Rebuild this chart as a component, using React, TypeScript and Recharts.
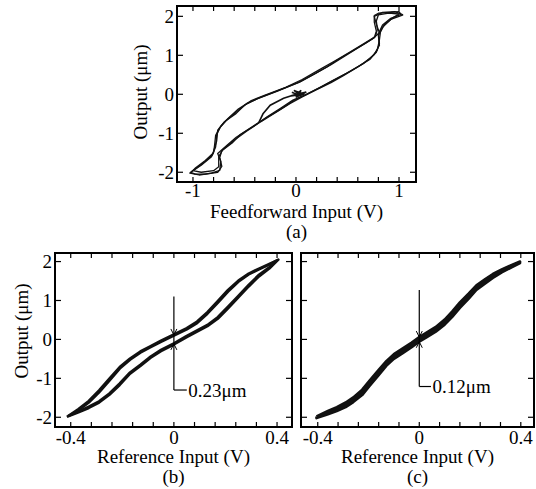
import React from 'react';
import { LineChart, Line, XAxis, YAxis, ReferenceLine, ReferenceDot } from 'recharts';

const FONT = '"Liberation Serif", "Times New Roman", Times, serif';
const FS = 19;
const INK = '#111';
const PAGE_W = 536;
const PAGE_H = 489;

// shared y ticks (µm)
const Y_TICKS = [-2, -1, 0, 1, 2];

// (a) feedforward input (V) vs output (µm), a few cycles
const A_TICKS_X = [-1, -0.8, -0.6, -0.4, -0.2, 0, 0.2, 0.4, 0.6, 0.8, 1];
const A_LABELS_X = [-1, 0, 1];
const A_LOOP_1: [number, number][] = [
  [1.02, 2.05], [1.0, 2.12], [0.92, 2.1], [0.8, 2.08], [0.76, 2.02], [0.76, 1.85], [0.78, 1.62],
  [0.76, 1.45], [0.68, 1.32], [0.56, 1.13], [0.4, 0.88], [0.3, 0.7], [0.15, 0.48], [0.04, 0.32],
  [-0.15, 0.12], [-0.38, -0.12], [-0.5, -0.28], [-0.58, -0.49], [-0.68, -0.68], [-0.74, -0.86],
  [-0.78, -1.05], [-0.79, -1.3], [-0.8, -1.5], [-0.88, -1.7], [-0.98, -1.9], [-1.02, -2.0],
  [-0.98, -2.05], [-0.88, -2.05], [-0.76, -2.0], [-0.72, -1.85], [-0.74, -1.62], [-0.72, -1.45],
  [-0.62, -1.25], [-0.54, -1.03], [-0.4, -0.8], [-0.28, -0.58], [-0.15, -0.36], [-0.03, -0.15],
  [0.1, 0.0], [0.23, 0.17], [0.36, 0.36], [0.49, 0.54], [0.62, 0.74], [0.72, 0.92], [0.78, 1.08],
  [0.81, 1.3], [0.8, 1.55], [0.84, 1.78], [0.92, 1.95], [1.02, 2.05],
];
const A_LOOP_2: [number, number][] = [
  [1.04, 2.04], [0.96, 2.12], [0.84, 2.1], [0.76, 2.0], [0.78, 1.8], [0.81, 1.58], [0.74, 1.42],
  [0.62, 1.22], [0.48, 0.99], [0.34, 0.76], [0.18, 0.52], [0.02, 0.3], [-0.18, 0.08], [-0.36, -0.1],
  [-0.48, -0.24], [-0.6, -0.5], [-0.7, -0.72], [-0.76, -0.92], [-0.77, -1.2], [-0.81, -1.55],
  [-0.9, -1.76], [-0.98, -1.92], [-1.03, -2.02], [-0.94, -2.07], [-0.82, -2.02], [-0.74, -1.95],
  [-0.73, -1.72], [-0.76, -1.52], [-0.7, -1.38], [-0.58, -1.1], [-0.44, -0.86], [-0.3, -0.62],
  [-0.16, -0.4], [-0.02, -0.16], [0.12, 0.02], [0.26, 0.21], [0.4, 0.41], [0.54, 0.61], [0.66, 0.8],
  [0.76, 1.02], [0.81, 1.26], [0.8, 1.5], [0.84, 1.72], [0.92, 1.92], [1.04, 2.04],
];
const A_LOOP_3: [number, number][] = [
  [1.0, 2.06], [0.9, 2.08], [0.8, 2.04], [0.78, 1.88], [0.79, 1.66], [0.77, 1.48], [0.66, 1.3],
  [0.52, 1.08], [0.38, 0.86], [0.22, 0.62], [0.06, 0.38], [-0.1, 0.18], [-0.3, -0.02], [-0.44, -0.17],
  [-0.56, -0.38], [-0.66, -0.62], [-0.73, -0.82], [-0.77, -1.04], [-0.78, -1.35], [-0.82, -1.6],
  [-0.92, -1.82], [-1.0, -1.96], [-0.92, -2.0], [-0.8, -1.96], [-0.75, -1.86], [-0.75, -1.6],
  [-0.71, -1.42], [-0.6, -1.18], [-0.48, -0.95], [-0.34, -0.7], [-0.2, -0.47], [-0.06, -0.24],
  [0.06, -0.07], [0.2, 0.12], [0.34, 0.3], [0.46, 0.48], [0.6, 0.7], [0.72, 0.9], [0.79, 1.14],
  [0.81, 1.4], [0.82, 1.6], [0.86, 1.8], [0.94, 1.96], [1.0, 2.06],
];
// start-up transient from the origin
const A_START: [number, number][] = [
  [-0.04, 0.05], [0.06, -0.06], [-0.02, 0.1], [0.08, 0.0], [-0.05, -0.04], [0.1, 0.06], [0.0, -0.08],
  [0.05, 0.1], [0.0, 0.0], [-0.12, -0.1], [-0.25, -0.28], [-0.32, -0.5], [-0.36, -0.72],
];

// (b) reference input (V) vs output, open-loop hysteresis
const BC_TICKS_X = [-0.4, -0.32, -0.24, -0.16, -0.08, 0, 0.08, 0.16, 0.24, 0.32, 0.4];
const BC_LABELS_X = [-0.4, 0, 0.4];
const B_LOOP_1: [number, number][] = [
  [-0.415, -1.99], [-0.37, -1.82], [-0.33, -1.62], [-0.29, -1.36], [-0.25, -1.06], [-0.21, -0.75],
  [-0.17, -0.52], [-0.13, -0.34], [-0.09, -0.2], [-0.05, -0.06], [0.0, 0.1], [0.05, 0.26], [0.09, 0.42],
  [0.13, 0.66], [0.17, 0.94], [0.21, 1.23], [0.25, 1.48], [0.29, 1.67], [0.33, 1.8], [0.37, 1.92],
  [0.405, 2.05], [0.37, 1.82], [0.33, 1.62], [0.29, 1.36], [0.25, 1.08], [0.21, 0.8], [0.17, 0.53],
  [0.13, 0.34], [0.09, 0.2], [0.05, 0.06], [0.0, -0.13], [-0.05, -0.3], [-0.09, -0.47], [-0.13, -0.68],
  [-0.17, -0.88], [-0.21, -1.17], [-0.25, -1.42], [-0.29, -1.62], [-0.33, -1.76], [-0.37, -1.87],
  [-0.415, -1.99],
];
const B_LOOP_2: [number, number][] = [
  [-0.41, -1.97], [-0.37, -1.79], [-0.33, -1.58], [-0.29, -1.31], [-0.25, -1.01], [-0.21, -0.71],
  [-0.17, -0.49], [-0.13, -0.31], [-0.09, -0.17], [-0.05, -0.03], [0.0, 0.13], [0.05, 0.29], [0.09, 0.46],
  [0.13, 0.7], [0.17, 0.98], [0.21, 1.27], [0.25, 1.51], [0.29, 1.69], [0.33, 1.82], [0.37, 1.94],
  [0.4, 2.03], [0.37, 1.85], [0.33, 1.66], [0.29, 1.4], [0.25, 1.12], [0.21, 0.84], [0.17, 0.57],
  [0.13, 0.37], [0.09, 0.23], [0.05, 0.09], [0.0, -0.1], [-0.05, -0.27], [-0.09, -0.44], [-0.13, -0.65],
  [-0.17, -0.85], [-0.21, -1.13], [-0.25, -1.39], [-0.29, -1.59], [-0.33, -1.73], [-0.37, -1.85],
  [-0.41, -1.97],
];

// (c) reference input (V) vs output, compensated
const C_LOOP_1: [number, number][] = [
  [-0.405, -1.98], [-0.36, -1.84], [-0.325, -1.74], [-0.29, -1.62], [-0.26, -1.49], [-0.225, -1.29],
  [-0.195, -1.05], [-0.16, -0.78], [-0.13, -0.56], [-0.1, -0.38], [-0.065, -0.23], [-0.03, -0.08],
  [0.0, 0.06], [0.03, 0.18], [0.065, 0.32], [0.1, 0.51], [0.13, 0.72], [0.16, 0.95], [0.195, 1.18],
  [0.225, 1.39], [0.26, 1.55], [0.29, 1.68], [0.325, 1.8], [0.36, 1.9], [0.397, 2.0],
  [0.397, 1.96], [0.36, 1.84], [0.325, 1.72], [0.29, 1.58], [0.26, 1.44], [0.225, 1.27], [0.195, 1.05],
  [0.16, 0.81], [0.13, 0.58], [0.1, 0.38], [0.065, 0.2], [0.03, 0.06], [0.0, -0.06], [-0.03, -0.2],
  [-0.065, -0.35], [-0.1, -0.5], [-0.13, -0.68], [-0.16, -0.92], [-0.195, -1.19], [-0.225, -1.43],
  [-0.26, -1.61], [-0.29, -1.74], [-0.325, -1.84], [-0.36, -1.92], [-0.405, -2.02], [-0.405, -1.98],
];
const C_LOOP_2: [number, number][] = [
  [-0.4, -1.99], [-0.36, -1.86], [-0.325, -1.77], [-0.29, -1.65], [-0.26, -1.52], [-0.225, -1.33],
  [-0.195, -1.09], [-0.16, -0.82], [-0.13, -0.6], [-0.1, -0.42], [-0.065, -0.26], [-0.03, -0.11],
  [0.0, 0.03], [0.03, 0.15], [0.065, 0.29], [0.1, 0.47], [0.13, 0.68], [0.16, 0.91], [0.195, 1.15],
  [0.225, 1.36], [0.26, 1.53], [0.29, 1.66], [0.325, 1.78], [0.36, 1.88], [0.395, 1.98],
  [0.36, 1.86], [0.325, 1.75], [0.29, 1.61], [0.26, 1.47], [0.225, 1.3], [0.195, 1.08], [0.16, 0.85],
  [0.13, 0.62], [0.1, 0.41], [0.065, 0.23], [0.03, 0.09], [0.0, -0.03], [-0.03, -0.17], [-0.065, -0.32],
  [-0.1, -0.47], [-0.13, -0.64], [-0.16, -0.88], [-0.195, -1.15], [-0.225, -1.39], [-0.26, -1.58],
  [-0.29, -1.71], [-0.325, -1.81], [-0.36, -1.9], [-0.4, -1.99],
];

const toPts = (arr: [number, number][]) => arr.map(([x, y]) => ({ x, y }));
const hasLabel = (labels: number[], v: number) => labels.some((l) => Math.abs(l - v) < 1e-6);

const txt = { fontFamily: FONT, fontSize: FS, fill: '#000' };
const frame = { stroke: '#000', strokeWidth: 2, strokeLinecap: 'square' as const };

const bottomTick = (labels: number[], dy: number) => (p: any) => {
  const v = p.payload.value;
  return (
    <g>
      <line x1={p.x} x2={p.x} y1={p.y} y2={p.y - 5} stroke="#000" strokeWidth={1.2} />
      {hasLabel(labels, v) && (
        <text x={p.x} y={p.y + dy} textAnchor="middle" {...txt}>
          {String(v)}
        </text>
      )}
    </g>
  );
};
const topTick = (p: any) => (
  <line x1={p.x} x2={p.x} y1={p.y} y2={p.y + 5} stroke="#000" strokeWidth={1.2} />
);
const leftTick = (showText: boolean) => (p: any) => (
  <g>
    <line x1={p.x} x2={p.x + 6} y1={p.y} y2={p.y} stroke="#000" strokeWidth={1.2} />
    {showText && (
      <text x={p.x - 3} y={p.y} dy="0.35em" textAnchor="end" {...txt}>
        {String(p.payload.value)}
      </text>
    )}
  </g>
);
const rightTick = (p: any) => (
  <line x1={p.x - 6} x2={p.x} y1={p.y} y2={p.y} stroke="#000" strokeWidth={1.2} />
);

const xTitle = (title: string, caption: string) => (props: any) => {
  const vb = props.viewBox;
  const cx = vb.x + vb.width / 2;
  return (
    <g>
      <text x={cx} y={vb.y + 36} textAnchor="middle" {...txt}>{title}</text>
      <text x={cx} y={vb.y + 56} textAnchor="middle" {...txt}>{caption}</text>
    </g>
  );
};
const yTitle = (bx: number, shift: number) => (props: any) => {
  const vb = props.viewBox;
  const cy = vb.y + vb.height / 2 + shift;
  return (
    <text transform={`translate(${bx},${cy}) rotate(-90)`} textAnchor="middle" {...txt}>
      Output (μm)
    </text>
  );
};

const arrow = (dir: 1 | -1) => (p: any) => (
  <path
    d={`M${p.cx - 3},${p.cy - 6 * dir}L${p.cx},${p.cy}L${p.cx + 3},${p.cy - 6 * dir}`}
    stroke="#000"
    strokeWidth={1}
    fill="none"
  />
);
const note = (value: string) => (p: any) => (
  <text x={p.cx} y={p.cy} dy="0.35em" {...txt}>{value}</text>
);

type Box = { left: number; top: number; right: number; bottom: number };
type Gap = { top: number; bottom: number; tail: number; textX: number; upper: number; lower: number; text: string };

function Panel(props: {
  box: Box;
  xDomain: [number, number];
  yDomain: [number, number];
  xTicks: number[];
  xLabels: number[];
  tickDy: number;
  yText: boolean;
  loops: [number, number][][];
  thin?: [number, number][];
  strokeWidth: number;
  xLabel: string;
  caption: string;
  yLabelX?: number;
  yLabelShift?: number;
  gap?: Gap;
}) {
  const { box, gap } = props;
  const margin = {
    left: box.left - 30,
    top: box.top - 2,
    right: PAGE_W - box.right - 2,
    bottom: PAGE_H - box.bottom - 30,
  };
  return (
    <div style={{ position: 'absolute', left: 0, top: 0 }}>
      <LineChart width={PAGE_W} height={PAGE_H} margin={margin}>
        <XAxis
          xAxisId="b"
          dataKey="x"
          type="number"
          domain={props.xDomain}
          allowDataOverflow
          ticks={props.xTicks}
          interval={0}
          tickSize={0}
          tickMargin={0}
          tickLine={false}
          axisLine={frame}
          height={30}
          tick={bottomTick(props.xLabels, props.tickDy)}
          label={xTitle(props.xLabel, props.caption)}
        />
        <XAxis
          xAxisId="t"
          orientation="top"
          dataKey="x"
          type="number"
          domain={props.xDomain}
          allowDataOverflow
          ticks={props.xTicks}
          interval={0}
          tickSize={0}
          tickMargin={0}
          tickLine={false}
          axisLine={frame}
          height={2}
          tick={topTick}
        />
        <YAxis
          yAxisId="l"
          type="number"
          domain={props.yDomain}
          allowDataOverflow
          ticks={Y_TICKS}
          interval={0}
          tickSize={0}
          tickMargin={0}
          tickLine={false}
          axisLine={frame}
          width={30}
          tick={leftTick(props.yText)}
          label={props.yLabelX !== undefined ? yTitle(props.yLabelX, props.yLabelShift ?? 0) : undefined}
        />
        <YAxis
          yAxisId="r"
          orientation="right"
          type="number"
          domain={props.yDomain}
          allowDataOverflow
          ticks={Y_TICKS}
          interval={0}
          tickSize={0}
          tickMargin={0}
          tickLine={false}
          axisLine={frame}
          width={2}
          tick={rightTick}
        />
        {props.loops.map((loop, i) => (
          <Line
            key={i}
            xAxisId="b"
            yAxisId="l"
            data={toPts(loop)}
            dataKey="y"
            type="linear"
            stroke={INK}
            strokeWidth={props.strokeWidth}
            strokeLinejoin="round"
            dot={false}
            activeDot={false}
            isAnimationActive={false}
          />
        ))}
        {props.thin && (
          <Line
            xAxisId="b"
            yAxisId="l"
            data={toPts(props.thin)}
            dataKey="y"
            type="linear"
            stroke={INK}
            strokeWidth={1.6}
            dot={false}
            activeDot={false}
            isAnimationActive={false}
          />
        )}
        {gap && (
          <ReferenceLine
            xAxisId="b"
            yAxisId="l"
            segment={[{ x: 0, y: gap.top }, { x: 0, y: gap.bottom }]}
            stroke="#000"
            strokeWidth={1.2}
          />
        )}
        {gap && (
          <ReferenceLine
            xAxisId="b"
            yAxisId="l"
            segment={[{ x: 0, y: gap.bottom }, { x: gap.tail, y: gap.bottom }]}
            stroke="#000"
            strokeWidth={1.2}
          />
        )}
        {gap && <ReferenceDot xAxisId="b" yAxisId="l" x={0} y={gap.upper} r={1} shape={arrow(1)} />}
        {gap && <ReferenceDot xAxisId="b" yAxisId="l" x={0} y={gap.lower} r={1} shape={arrow(-1)} />}
        {gap && <ReferenceDot xAxisId="b" yAxisId="l" x={gap.textX} y={gap.bottom} r={1} shape={note(gap.text)} />}
      </LineChart>
    </div>
  );
}

export default function App() {
  return (
    <div style={{ position: 'absolute', left: 0, top: 0, width: PAGE_W, height: PAGE_H, background: '#fff' }}>
      <Panel
        box={{ left: 177, top: 6, right: 416, bottom: 182 }}
        xDomain={[-1.155, 1.165]}
        yDomain={[-2.25, 2.265]}
        xTicks={A_TICKS_X}
        xLabels={A_LABELS_X}
        tickDy={15}
        yText
        loops={[A_LOOP_1, A_LOOP_2, A_LOOP_3]}
        thin={A_START}
        strokeWidth={1.3}
        xLabel="Feedforward Input (V)"
        caption="(a)"
        yLabelX={147}
        yLabelShift={-2}
      />
      <Panel
        box={{ left: 55, top: 253, right: 292, bottom: 427 }}
        xDomain={[-0.461, 0.458]}
        yDomain={[-2.25, 2.22]}
        xTicks={BC_TICKS_X}
        xLabels={BC_LABELS_X}
        tickDy={17}
        yText
        loops={[B_LOOP_1, B_LOOP_2]}
        strokeWidth={2.6}
        xLabel="Reference Input (V)"
        caption="(b)"
        yLabelX={28}
        yLabelShift={-9}
        gap={{ top: 1.1, bottom: -1.3, tail: 0.05, textX: 0.056, upper: 0.115, lower: -0.115, text: '0.23μm' }}
      />
      <Panel
        box={{ left: 301, top: 253, right: 534, bottom: 427 }}
        xDomain={[-0.466, 0.452]}
        yDomain={[-2.25, 2.22]}
        xTicks={BC_TICKS_X}
        xLabels={BC_LABELS_X}
        tickDy={17}
        yText={false}
        loops={[C_LOOP_1, C_LOOP_2]}
        strokeWidth={2.6}
        xLabel="Reference Input (V)"
        caption="(c)"
        gap={{ top: 1.27, bottom: -1.21, tail: 0.046, textX: 0.052, upper: 0.06, lower: -0.06, text: '0.12μm' }}
      />
    </div>
  );
}
